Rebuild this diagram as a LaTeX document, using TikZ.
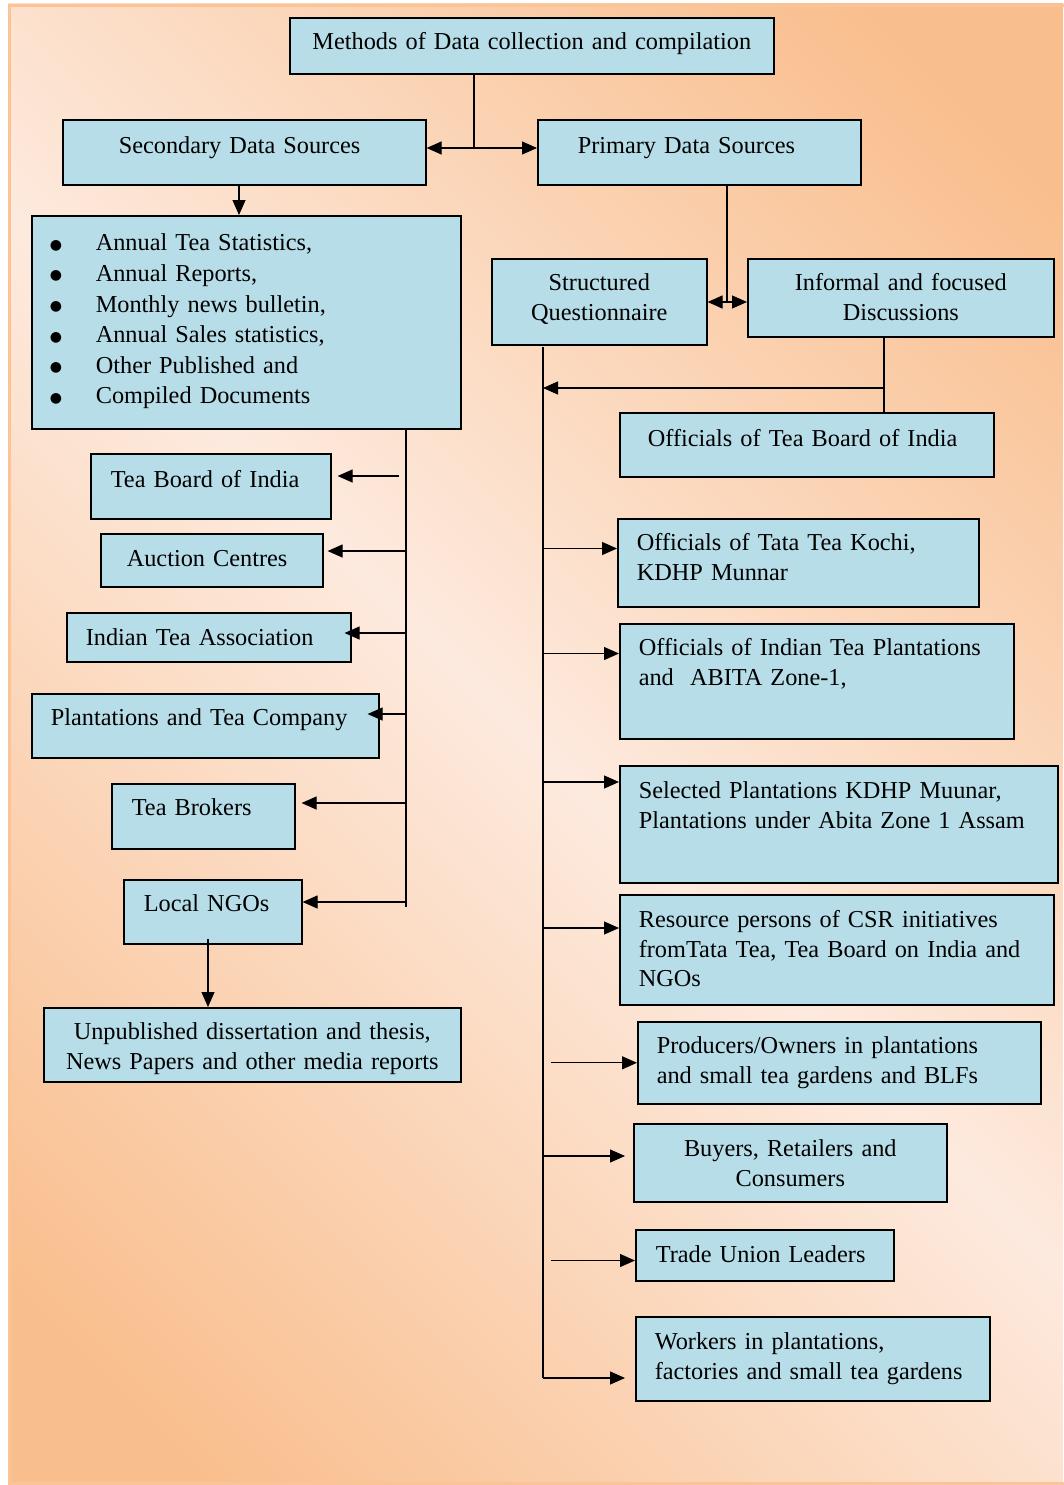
\documentclass[tikz,border=0pt]{standalone}
\usepackage{fontspec}
\setmainfont{Liberation Serif}
\newfontfamily\symfont{DejaVu Sans}
\usetikzlibrary{arrows.meta}

\definecolor{boxblue}{HTML}{B7DDE8}
\definecolor{bgorange}{HTML}{F9BE8D}
\definecolor{bglight}{HTML}{FDEADE}
\definecolor{rimorange}{HTML}{FBC497}
\pgfdeclareverticalshading{bgshade}{100bp}{color(0bp)=(bgorange); color(20bp)=(bgorange);
    color(50bp)=(bglight); color(80bp)=(bgorange); color(100bp)=(bgorange)}

\hyphenpenalty=10000
\exhyphenpenalty=10000

\newcommand{\bul}{\makebox[45pt][l]{\hspace*{-1pt}\raisebox{1.5pt}{\fontsize{14}{14}\symfont ●}}}

\tikzset{
  blk/.style={draw, fill=boxblue, line width=1.6pt, inner ysep=0pt, anchor=north west,
              align=left, font=\fontsize{24.3}{29.5}\selectfont},
  con/.style={line width=1.2pt},
  arr/.style={con, -{Triangle[length=15pt,width=13pt]}},
}

\begin{document}
\begin{tikzpicture}[x=1pt,y=-1pt]%% start picture
            \useasboundingbox (0,0) rectangle (1063,1485);
            \fill[white] (0,0) rectangle (1063,1485);
            \shade[shading=bgshade, shading angle=-45] (8,4) rectangle (1063,1485);
            \draw[rimorange, line width=3pt] (1070,5.5) -- (9.5,5.5) -- (9.5,1483.5) -- (1070,1483.5);

            %% top
                \node[blk, align=center, text width=464pt, inner xsep=10pt, text height=32pt, text depth=24pt]
                    (meth) at (289,17) {Methods of Data collection and compilation};
                \node[blk, text width=251pt, inner xsep=56pt, text height=34pt, text depth=31pt]
                    (sec) at (62,119) {Secondary Data Sources};
                \node[blk, text width=243pt, inner xsep=40pt, text height=34pt, text depth=31pt]
                    (prim) at (537,119) {Primary Data Sources};

            %% secondary side
                \node[blk, font=\fontsize{24.3}{30.6}\selectfont, text width=391pt, inner xsep=19pt, text height=35pt, text depth=178pt]
                    (list) at (31,215) {\bul Annual Tea Statistics,\\
                                        \bul Annual Reports,\\
                                        \bul Monthly news bulletin,\\
                                        \bul Annual Sales statistics,\\
                                        \bul Other Published and\\
                                        \bul Compiled Documents};
                \node[blk, text width=200pt, inner xsep=20pt, text height=34pt, text depth=31pt]
                    (teaboard) at (90,453) {Tea Board of India};
                \node[blk, text width=170pt, inner xsep=26pt, text height=33pt, text depth=20pt]
                    (auction) at (100,533) {Auction Centres};
                \node[blk, text width=246pt, inner xsep=19pt, text height=33pt, text depth=16pt]
                    (ita) at (66,612) {Indian Tea Association};
                \node[blk, text width=309pt, inner xsep=19pt, text height=32pt, text depth=32pt]
                    (plant) at (31,693) {Plantations and Tea Company};
                \node[blk, text width=143pt, inner xsep=20pt, text height=32pt, text depth=33pt]
                    (brokers) at (111,783) {Tea Brokers};
                \node[blk, text width=138pt, inner xsep=20pt, text height=32pt, text depth=32pt]
                    (ngo) at (123,879) {Local NGOs};
                \node[blk, align=center, text width=397pt, inner xsep=10pt, text height=32pt, text depth=42pt]
                    (unpub) at (43,1007) {Unpublished dissertation and thesis,\\News Papers and other media reports};

            %% primary side
                \node[blk, align=center, text width=195pt, inner xsep=10pt, text height=32pt, text depth=54pt]
                    (struct) at (491,258) {Structured\\Questionnaire};
                \node[blk, align=center, text width=286pt, inner xsep=10pt, text height=32pt, text depth=46pt]
                    (inform) at (747,258) {Informal and focused\\Discussions};
                \node[blk, text width=318pt, inner xsep=28pt, text height=34pt, text depth=30pt]
                    (offtb) at (619,412) {Officials of Tea Board of India};
                \node[blk, text width=323pt, inner xsep=19pt, text height=32pt, text depth=56pt]
                    (tata) at (617,518) {Officials of Tata Tea Kochi,\\KDHP Munnar};
                \node[blk, text width=356pt, inner xsep=19pt, text height=32pt, text depth=83pt]
                    (itp) at (619,623) {Officials of Indian Tea Plantations\\and\ \ ABITA Zone-1,};
                \node[blk, text width=400pt, inner xsep=19pt, text height=33pt, text depth=84pt]
                    (selected) at (619,765) {Selected Plantations KDHP Muunar,\\Plantations under Abita Zone 1 Assam};
                \node[blk, text width=396pt, inner xsep=19pt, text height=33pt, text depth=77pt]
                    (csr) at (619,894) {Resource persons of CSR initiatives\\fromTata Tea, Tea Board on India and\\NGOs};
                \node[blk, text width=365pt, inner xsep=19pt, text height=32pt, text depth=50pt]
                    (producers) at (637,1021) {Producers/Owners in plantations\\and small tea gardens and BLFs};
                \node[blk, align=center, text width=293pt, inner xsep=10pt, text height=33pt, text depth=45pt]
                    (buyers) at (633,1123) {Buyers, Retailers and\\Consumers};
                \node[blk, text width=218pt, inner xsep=20pt, text height=33pt, text depth=18pt]
                    (union) at (635,1229) {Trade Union Leaders};
                \node[blk, text width=316pt, inner xsep=19pt, text height=33pt, text depth=51pt]
                    (workers) at (635,1316) {Workers in plantations,\\factories and small tea gardens};

            %% joints and bus lines
                \coordinate (split) at (474,148);
                \coordinate (sdrop) at (239,184);
                \coordinate (pjoin) at (727,302);
                \coordinate (ijoin) at (884,388);
                \coordinate (sbus) at (406,428);
                \coordinate (sgap) at (399,428);
                \coordinate (send) at (406,907);
                \coordinate (qtop) at (543,347);
                \coordinate (qgap) at (551,347);
                \coordinate (qend) at (543,1378);
                \coordinate (ndrop) at (208,939);

                \draw[con] (split |- meth.south) -- (split);
                \draw[arr] (split) -- (split -| sec.east);
                \draw[arr] (split) -- (split -| prim.west);
                \draw[arr] (sdrop) -- (sdrop |- list.north);
                \draw[con] (pjoin |- prim.south) -- (pjoin);
                \draw[arr] (pjoin) -- (pjoin -| struct.east);
                \draw[arr] (pjoin) -- (pjoin -| inform.west);
                \draw[con] (ijoin |- inform.south) -- (ijoin |- offtb.north);
                \draw[arr] (ijoin) -- (ijoin -| qtop);

            %% left arrows
                \draw[con] (sbus) -- (send);
                \coordinate (tbin) at ([yshift=-23pt]teaboard.north east);
                \coordinate (acin) at ([yshift=-18pt]auction.north east);
                \coordinate (itain) at ([yshift=-21pt]ita.north east);
                \coordinate (plin) at ([yshift=-21pt]plant.north east);
                \coordinate (brin) at ([yshift=-20pt]brokers.north east);
                \coordinate (ngin) at ([yshift=-23pt]ngo.north east);
                \draw[arr, shorten >=6pt] (sgap |- tbin) -- (tbin);
                \draw[arr, shorten >=4pt] (sbus |- acin) -- (acin);
                \draw[arr, shorten >=-7pt] (sbus |- itain) -- (itain);
                \draw[arr, shorten >=-12pt] (sbus |- plin) -- (plin);
                \draw[arr, shorten >=6pt] (sbus |- brin) -- (brin);
                \draw[arr] (sbus |- ngin) -- (ngin);
                \draw[arr] (ndrop) -- (ndrop |- unpub.north);

            %% right arrows
                \draw[con] (qtop) -- (qend);
                \coordinate (selin) at ([yshift=-17pt]selected.north west);
                \coordinate (csrin) at ([yshift=-34pt]csr.north west);
                \coordinate (buyin) at ([yshift=-33pt]buyers.north west);
                \draw[arr] (qtop |- tata.mid west) -- (tata.mid west);
                \draw[arr] (qtop |- itp.mid west) -- (itp.mid west);
                \draw[arr] (qtop |- selin) -- (selin);
                \draw[arr] (qtop |- csrin) -- (csrin);
                \draw[arr] (qgap |- producers.west) -- (producers.west);
                \draw[arr, shorten >=8pt] (qtop |- buyin) -- (buyin);
                \draw[arr] (qgap |- union.mid west) -- (union.mid west);
                \draw[arr, shorten >=10pt] (qend) -- (qend -| workers.west);

\end{tikzpicture}
\end{document}
